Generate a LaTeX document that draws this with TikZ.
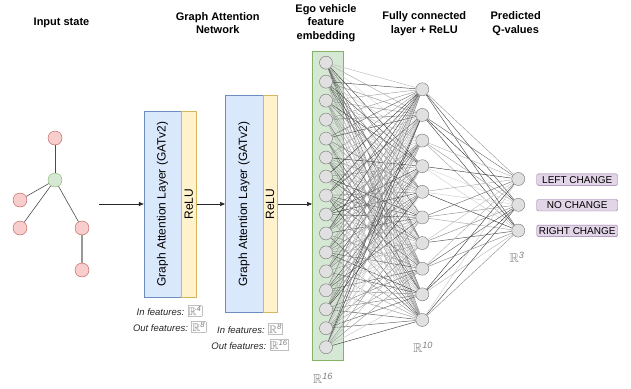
\documentclass[tikz,border=0pt]{standalone}
\usepackage{amssymb}
\usepackage{fontspec}
\setmainfont{Liberation Sans}
\usetikzlibrary{arrows.meta}
\usetikzlibrary{positioning}

\definecolor{gatblue}{HTML}{DAE8FC}
\definecolor{gatline}{HTML}{6C8EBF}
\definecolor{reluyel}{HTML}{FFF2CC}
\definecolor{reluline}{HTML}{D6B656}
\definecolor{vehred}{HTML}{F8CECC}
\definecolor{vehline}{HTML}{B85450}
\definecolor{egogreen}{HTML}{D5E8D4}
\definecolor{egoline}{HTML}{82B366}
\definecolor{actpurple}{HTML}{E1D5E7}
\definecolor{actline}{HTML}{9673A6}
\definecolor{neuronfill}{HTML}{E0E0E0}

\pgfdeclarelayer{bg}
\pgfsetlayers{bg,main}

% small boxed R^n tag next to the feature sizes
\newcommand{\featbox}[1]{{\fontsize{11}{12}\selectfont\setlength{\fboxsep}{0.5pt}\setlength{\fboxrule}{0.4pt}%
    \fcolorbox{black!25}{white}{\textcolor{black!50}{$\mathbb{R}^{\mathit{#1}}$}}}}

\begin{document}
\begin{tikzpicture}[x=1pt, y=-1pt,
        title/.style={font=\fontsize{11}{13.5}\selectfont\bfseries, align=center},
        vehicle/.style={circle, draw=vehline, fill=vehred, minimum size=14, inner sep=0},
        ego/.style={circle, draw=egoline, fill=egogreen, minimum size=14, inner sep=0},
        link/.style={draw=black!70, line width=0.6pt},
        gat/.style={draw=gatline, fill=gatblue, rotate=90, inner sep=0, font=\fontsize{12}{14}\selectfont},
        relu/.style={draw=reluline, fill=reluyel, rotate=90, inner sep=0, font=\fontsize{12}{14}\selectfont},
        arr/.style={draw=black!85, line width=0.6pt, -{Triangle[length=5pt, width=4pt]}},
        feat/.style={font=\fontsize{9.5}{16}\selectfont\itshape, align=center, text=black!85},
        neuron/.style={circle, draw=black!55, fill=neuronfill, minimum size=13, inner sep=0},
        weight/.style={line width=0.45pt},
        action/.style={draw=actline, fill=actpurple, rounded corners=1.5pt, minimum width=81,
            minimum height=11.5, inner sep=0, font=\fontsize{10}{12}\selectfont},
        dim/.style={text=black!50, font=\fontsize{13}{14}\selectfont}]
        \useasboundingbox (0,0) rectangle (631,388);

        % column titles
        \node[title] (tin) at (61.5,23) {Input state};
        \node[title] (tgat) at (217.7,23.3) {Graph Attention\\Network};
        \node[title] (temb) at (326,23) {Ego vehicle\\feature\\embedding};
        \node[title] (tfc) at (424.3,23.5) {Fully connected\\layer + ReLU};
        \node[title] (tq) at (515.7,23.5) {Predicted\\Q-values};

        % input graph
        \node[vehicle] (v1) at (55,138) {};
        \node[ego] (ego) at (55,180) {};
        \node[vehicle] (v2) at (20,200) {};
        \node[vehicle] (v3) at (20,228) {};
        \node[vehicle] (v4) at (82,228) {};
        \node[vehicle] (v5) at (82,270) {};
        \draw[link] (v1) -- (ego);
        \draw[link] (ego) -- (v2);
        \draw[link] (ego) -- (v3);
        \draw[link] (ego) -- (v4);
        \draw[link, draw=black!40, line width=1.2pt] (v4) -- (v5);

        % GAT layers
        \node[gat, minimum width=186.3, minimum height=37] (gat1) at (162.5,204) {Graph Attention Layer (GATv2)};
        \node[relu, minimum width=186.3, minimum height=15.5] (relu1) at (188.75,204) {ReLU};
        \node[gat, minimum width=217, minimum height=37.4] (gat2) at (244,204) {Graph Attention Layer (GATv2)};
        \node[relu, minimum width=217, minimum height=14.6] (relu2) at (270,204) {ReLU};

        \node[feat] (f1) at (169.5,319) {In features: \featbox{4}\\Out features: \featbox{8}};
        \node[feat] (f2) at (250,337) {In features: \featbox{8}\\Out features: \featbox{16}};

        % neurons
        \foreach \i in {1,...,16}
            \node[neuron] (e\i) at (326, {62.7+18.97*(\i-1)}) {};
        \foreach \j in {1,...,10}
            \node[neuron] (h\j) at (422.3, {89.3+25.63*(\j-1)}) {};
        \foreach \k in {1,2,3}
            \node[neuron] (q\k) at (518.3, {179+25.8*(\k-1)}) {};

        \def\A{LEFT CHANGE, NO CHANGE, RIGHT CHANGE}
        \foreach \a[count=\k from 1] in \A
            \node[action] (act\k) at (577.2, {179.6+25.6*(\k-1)}) {\a};

        \node[dim] (d16) at (323,378) {$\mathbb{R}^{\mathit{16}}$};
        \node[dim] (d10) at (423,347) {$\mathbb{R}^{\mathit{10}}$};
        \node[dim] (d3) at (517,257) {$\mathbb{R}^{\mathit{3}}$};

        \begin{pgfonlayer}{bg}
            \node[draw=egoline, fill=egogreen, minimum width=31, minimum height=308.3, inner sep=0] (emb) at (327.8,205.8) {};
            \pgfmathsetseed{42}
            \foreach \i in {1,...,16}
                \foreach \j in {1,...,10}
                {
                    \pgfmathsetmacro\w{int(12+66*rnd)}
                    \draw[weight, draw=black!\w] (e\i) -- (h\j);
                }
            \foreach \j in {1,...,10}
                \foreach \k in {1,2,3}
                {
                    \pgfmathsetmacro\w{int(12+66*rnd)}
                    \draw[weight, draw=black!\w] (h\j) -- (q\k);
                }
        \end{pgfonlayer}

        % data flow
        \coordinate (gin) at (99,204);
        \draw[arr] (gin) -- (gat1);
        \draw[arr] (relu1) -- (gat2);
        \draw[arr] (relu2) -- (relu2 -| emb.west);
    \end{tikzpicture}
\end{document}
